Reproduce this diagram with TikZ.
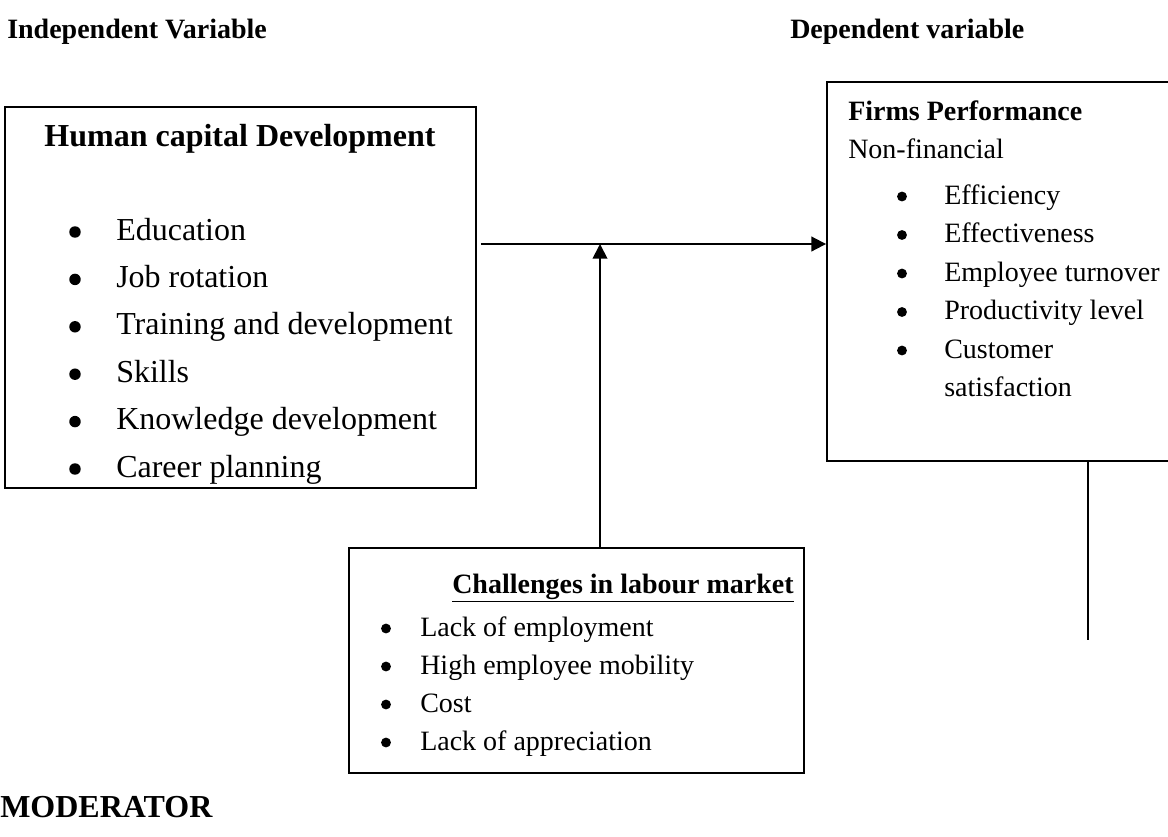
\documentclass[tikz,border=0pt]{standalone}
\usepackage{fontspec}
\setmainfont{Liberation Serif}
\usetikzlibrary{arrows.meta,positioning,fit}

\begin{document}
\begin{tikzpicture}[
    x=0.75pt, y=-0.75pt,
    frame/.style={draw, line width=1.4pt, inner sep=0pt},
    big/.style={font=\fontsize{24}{28}\selectfont, inner sep=0pt},
    txt/.style={font=\fontsize{21}{25}\selectfont, inner sep=0pt},
    bigtitle/.style={font=\fontsize{24}{28}\selectfont\bfseries, inner sep=0pt},
    title/.style={font=\fontsize{21}{25}\selectfont\bfseries, inner sep=0pt},
    bigdot/.style={circle, fill, inner sep=0pt, minimum size=8.6pt},
    dot/.style={circle, fill, inner sep=0pt, minimum size=7.4pt},
    arrow/.style={-{Triangle[length=11pt, width=11pt]}, line width=1.4pt}
  ]
    \useasboundingbox (0,0) rectangle (1168,836);

    % column headings
    \node[title, anchor=base west] (indep) at (7,38) {Independent Variable};
    \node[title, anchor=base west] (dep) at (790,38) {Dependent variable};
    \node[bigtitle, anchor=base west] (moder) at (0,817) {MODERATOR};

    % boxes
    \node[frame, fit={(5,107) (476,488)}] (hcd) {};
    \node[frame, fit={(827,82) (1185,461)}] (fp) {};
    \node[frame, fit={(349,548) (804,773)}] (clm) {};

    % human capital development
    \node[bigtitle, anchor=base] (hcd-title) at (240,146) {Human capital Development};
    \foreach \item [count=\i] in {Education, Job rotation, Training and development,
        Skills, Knowledge development, Career planning} {
      \node[bigdot] (hcd-dot-\i) at (75,{184.6+47.4*\i}) {};
      \node[big, anchor=base west] (hcd-\i) at (116,{192.6+47.4*\i}) {\item};
    }

    % firms performance
    \node[title, anchor=base west] (fp-title) at (848,120) {Firms Performance};
    \node[txt, anchor=base west] (fp-sub) at (848,158) {Non-financial};
    \foreach \item [count=\i] in {Efficiency, Effectiveness, Employee turnover,
        Productivity level, Customer} {
      \node[dot] (fp-dot-\i) at (902,{158+38.5*\i}) {};
      \node[txt, anchor=base west] (fp-\i) at (944,{165.5+38.5*\i}) {\item};
    }
    \node[txt, anchor=base west] (fp-6) at (944,396) {satisfaction};

    % moderator
    \node[title, anchor=base west] (clm-title) at (452,593) {\underline{Challenges in labour market}};
    \foreach \item [count=\i] in {Lack of employment, High employee mobility,
        Cost, Lack of appreciation} {
      \node[dot] (clm-dot-\i) at (386,{590.5+38*\i}) {};
      \node[txt, anchor=base west] (clm-\i) at (420,{598+38*\i}) {\item};
    }

    % connectors
    \coordinate (join) at (600,244);
    \coordinate (tail) at (1088,640);
    \draw[arrow] ([xshift=3pt]hcd.east |- join) -- (fp.west |- join);
    \draw[arrow] (clm.north -| join) -- (join);
    \draw[line width=1.4pt] (fp.south -| tail) -- (tail);
  \end{tikzpicture}
\end{document}
